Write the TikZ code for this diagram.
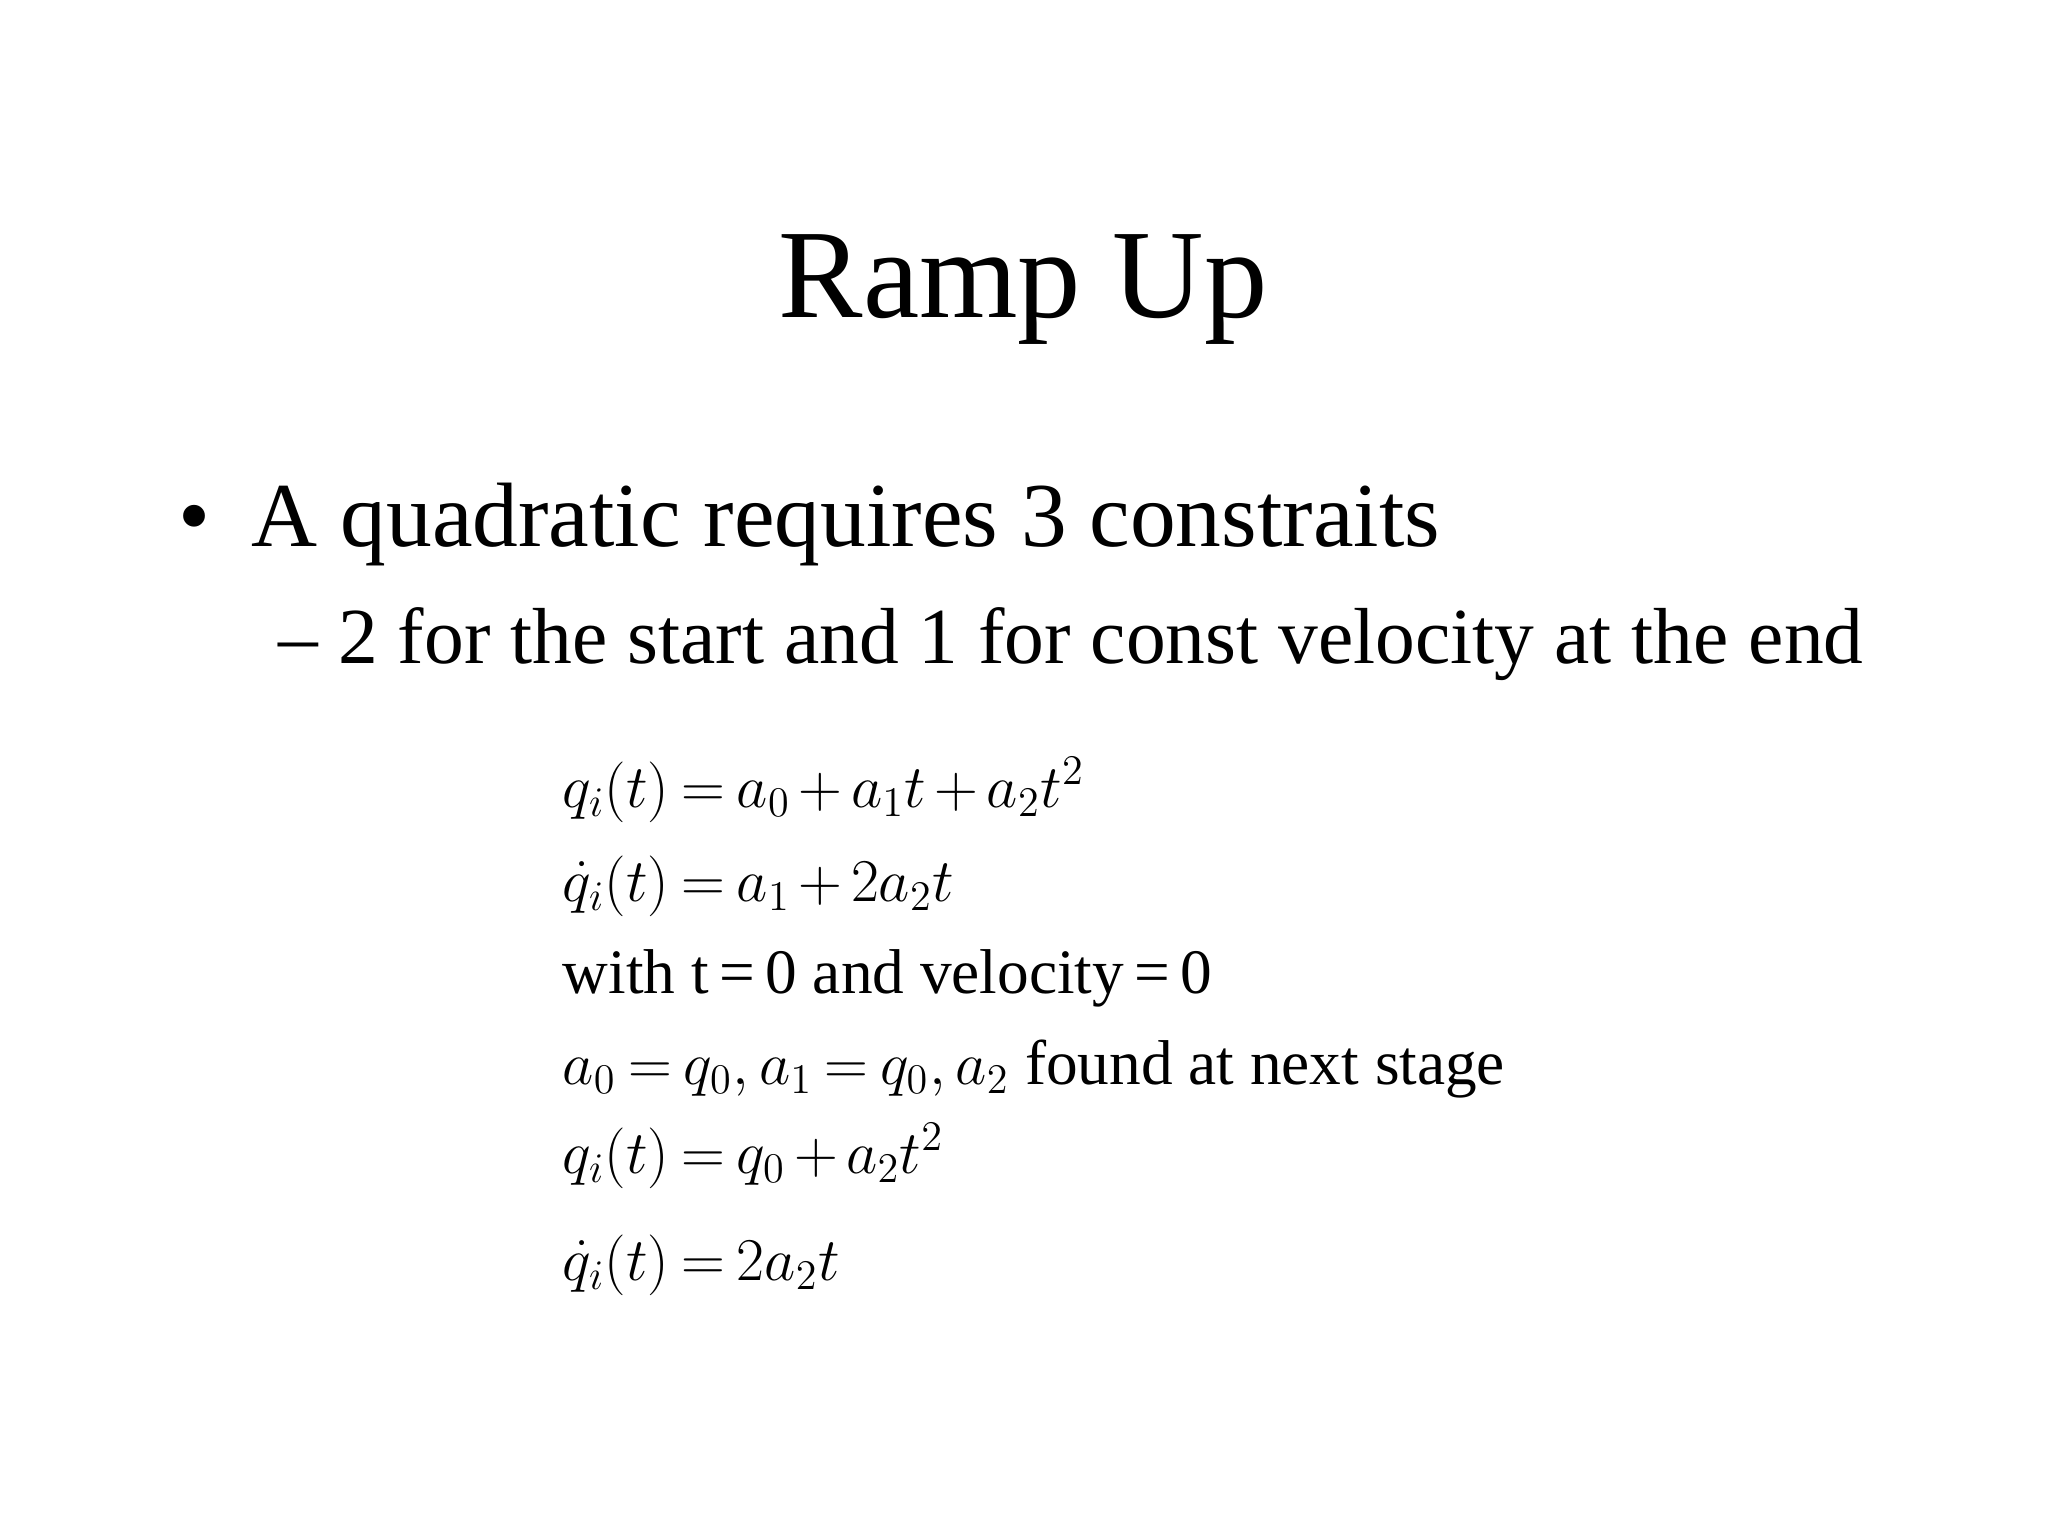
\documentclass[tikz,border=0pt]{standalone}
\usepackage{fontspec}
\setmainfont{Liberation Serif}
\medmuskip=2.5mu plus 1mu minus 1mu
\thickmuskip=3.5mu plus 1mu
\begin{document}
\begin{tikzpicture}[x=0.01cm,y=-0.01cm,
  eq/.style={anchor=base west,inner sep=0,font=\fontsize{18}{20}\selectfont}]
\useasboundingbox (0,0) rectangle (2048,1536);
\node[anchor=base,inner sep=0,font=\fontsize{36}{40}\selectfont] (title) at (1023,317) {Ramp Up};
\node[anchor=base west,inner sep=0,font=\fontsize{26}{30}\selectfont] (b1) at (178,546) {•\hspace{0.45em}A quadratic requires 3 constraits};
\node[anchor=base west,inner sep=0,font=\fontsize{22.6}{26}\selectfont] (b2) at (278,663) {– 2 for the start and 1 for const velocity at the end};
\node[eq] (e1) at (562,807) {$q_i\bigl(t\bigr)=a_0+a_1t+a_2t^2$};
\node[eq] (e2) at (562,901) {$\dot q_i\bigl(t\bigr)=a_1+2a_2t$};
\node[eq] (e3) at (562,993) {with t\,=\,0 and velocity\,=\,0};
\node[eq] (e4) at (562,1084) {$a_0=q_0, a_1=q_0, a_2$ found at next stage};
\node[eq] (e5) at (562,1173) {$q_i\bigl(t\bigr)=q_0+a_2t^2$};
\node[eq] (e6) at (562,1280) {$\dot q_i\bigl(t\bigr)=2a_2t$};
\end{tikzpicture}
\end{document}
